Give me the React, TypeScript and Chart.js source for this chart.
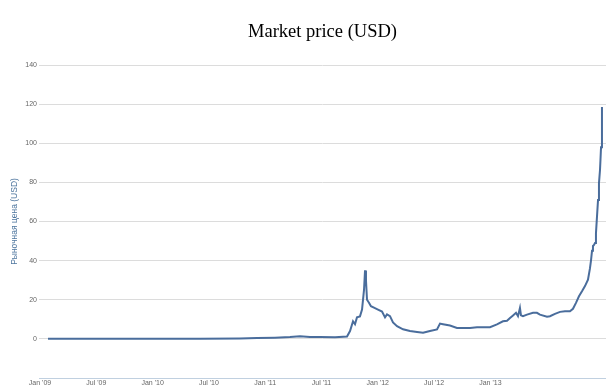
import React, { useEffect, useRef } from "react";
import { Chart, registerables } from "chart.js";

Chart.register(...registerables);

const chartTitle = "Market price (USD)";
const yAxisTitle = "Рыночная цена (USD)";

// x ticks (months on the axis, one label every 6 months)
const tickMonths = [0, 6, 12, 18, 24, 30, 36, 42, 48];
const tickLabels = ["Jan '09", "Jul '09", "Jan '10", "Jul '10", "Jan '11", "Jul '11", "Jan '12", "Jul '12", "Jan '13"];

// series: position on the axis (months) and price (USD)
const months = [
  0.85, 6.39, 11.72, 17.05, 21.31, 23.13, 25.04, 26.64, 27.71, 28.77, 29.84, 31.44, 32.72,
  33.04, 33.36, 33.57, 33.78, 34.1, 34.32, 34.53, 34.64, 34.74, 34.85, 35.06, 35.27, 35.59,
  36.02, 36.45, 36.77, 36.98, 37.3, 37.62, 38.05, 38.69, 39.43, 40.18, 40.82, 41.56, 42.31,
  42.63, 42.95, 43.69, 44.44, 45.08, 45.83, 46.57, 47.96, 48.7, 49.34, 49.77, 50.09, 50.41,
  50.73, 50.94, 51.15, 51.26, 51.47, 51.9, 52.54, 52.96, 53.28, 54.03, 54.35, 54.88, 55.42,
  55.95, 56.48, 56.8, 57.12, 57.44, 57.76, 58.08, 58.4, 58.61, 58.72, 58.83, 58.93, 59.04,
  59.15, 59.25, 59.36, 59.47, 59.57, 59.68, 59.73, 59.79, 59.89,
];
const prices = [
  0.05, 0.05, 0.1, 0.1, 0.2, 0.4, 0.6, 0.9, 1.3, 1.0, 0.9, 0.8, 1.2,
  4, 9, 7.5, 11, 11.5, 15, 25, 35, 30, 20, 18.5, 16.7, 16,
  15, 14, 11, 12.5, 11.6, 8.4, 6.5, 4.9, 4, 3.5, 3.1, 4, 4.8,
  7.8, 7.5, 6.8, 5.6, 5.5, 5.6, 6, 6, 7.4, 9, 9.3, 10.7, 12,
  13.3, 11.6, 15.8, 12, 11.6, 12.4, 13.3, 13.3, 12.4, 11.3, 11.6, 12.8, 13.8,
  14.1, 14.1, 15.4, 18.4, 21.8, 24.3, 27, 30.3, 36, 40, 45, 47.5, 48,
  49, 54, 62.5, 71, 79.5, 86.3, 91.4, 98, 118.5,
];

const yMin = -20;
const yMax = 140;
const yStep = 20;

const titlePlugin = {
  id: "centeredTitle",
  afterDraw(chart: any) {
    const { ctx, chartArea } = chart;
    ctx.save();
    ctx.font = '18.5px "Liberation Serif", "Times New Roman", serif';
    ctx.fillStyle = "#000";
    ctx.textAlign = "center";
    ctx.textBaseline = "alphabetic";
    ctx.fillText(chartTitle, (chartArea.left + chartArea.right) / 2, 37);
    ctx.restore();
  },
};

export default function App() {
  const ref = useRef<HTMLCanvasElement | null>(null);

  useEffect(() => {
    document.body.style.margin = "0";
    const canvas = ref.current;
    if (!canvas) return;
    const chart = new Chart(canvas, {
      type: "line",
      data: {
        datasets: [
          {
            data: months.map((m, i) => ({ x: m, y: prices[i] })),
            borderColor: "#4a6d9c",
            borderWidth: 2,
            pointRadius: 0,
            tension: 0,
            fill: false,
          },
        ],
      },
      options: {
        animation: false,
        responsive: false,
        maintainAspectRatio: false,
        layout: { padding: { top: 65, left: 0, right: 0, bottom: 0 } },
        plugins: {
          legend: { display: false },
          tooltip: { enabled: false },
          title: { display: false },
        },
        scales: {
          x: {
            type: "linear",
            min: -0.107,
            max: 60.32,
            afterBuildTicks: (scale: any) => {
              scale.ticks = tickMonths.map((v) => ({ value: v }));
            },
            afterFit: (scale: any) => {
              scale.height = 10;
            },
            ticks: {
              autoSkip: false,
              maxRotation: 0,
              padding: 1,
              color: "#666",
              font: { family: '"Liberation Sans", Arial, sans-serif', size: 7 },
              callback: (v: any) => {
                const idx = tickMonths.indexOf(Number(v));
                return idx >= 0 ? tickLabels[idx] : "";
              },
            },
            grid: { display: false, drawTicks: false, tickLength: 0 },
            border: { display: true, color: "#C0D0E0", width: 1 },
          },
          y: {
            min: yMin,
            max: yMax,
            afterFit: (scale: any) => {
              scale.width = 39;
            },
            ticks: {
              stepSize: yStep,
              padding: 2,
              color: "#666",
              font: { family: '"Liberation Sans", Arial, sans-serif', size: 7 },
              callback: (v: any) => (Number(v) < 0 ? "" : String(v)),
            },
            grid: {
              drawTicks: false,
              tickLength: 0,
              color: (ctx: any) => (ctx.tick && ctx.tick.value < 0 ? "rgba(0,0,0,0)" : "#dcdcdc"),
              lineWidth: 1,
            },
            border: { display: false },
            title: {
              display: true,
              text: yAxisTitle,
              color: "#4d759e",
              padding: { top: 10, bottom: 0 },
              font: { family: '"Liberation Sans", Arial, sans-serif', size: 8.5 },
            },
          },
        },
      },
      plugins: [titlePlugin],
    });
    return () => chart.destroy();
  }, []);

  return (
    <div style={{ width: 606, height: 388 }}>
      <canvas ref={ref} width={606} height={388} style={{ display: "block" }} />
    </div>
  );
}
